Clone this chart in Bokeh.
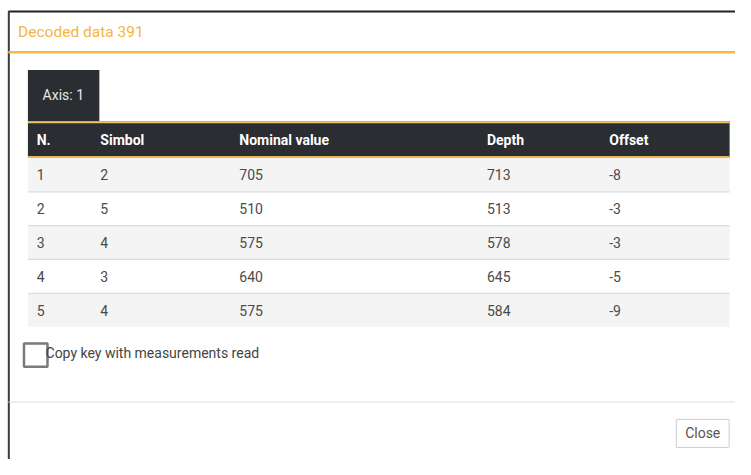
from bokeh.plotting import figure
from bokeh.models import Range1d
from bokeh.embed import file_html
from bokeh.resources import INLINE
from bokeh.core.properties import value

# ---- data ----
title_text = "Decoded data 391"
tab_label = "Axis: 1"
columns = ["N.", "Simbol", "Nominal value", "Depth", "Offset"]
row_n = [1, 2, 3, 4, 5]
simbol = [2, 5, 4, 3, 4]
nominal_value = [705, 510, 575, 640, 575]
depth = [713, 513, 578, 645, 584]
offset = [-8, -3, -3, -5, -9]
checkbox_label = "Copy key with measurements read"
button_label = "Close"

# ---- layout (reference-screen pixel coordinates) ----
FONT = value("Roboto")
ORANGE = "#f8b843"
DARK = "#2a2d31"
col_x = [37, 102, 244, 497, 622]
row_h = 35
row_top0 = 163

p = figure(width=735, height=459, output_backend="svg", toolbar_location=None,
           x_range=Range1d(0, 751), y_range=Range1d(475, 0),
           x_axis_type=None, y_axis_type=None, min_border=0)
p.outline_line_color = None
p.background_fill_color = "white"
p.border_fill_color = "white"

# dialog frame
p.segment(x0=[8], y0=[11.5], x1=[751], y1=[11.5], line_color="#222222", line_width=2)
p.segment(x0=[8.5], y0=[11], x1=[8.5], y1=[475], line_color="#3a3a3a", line_width=2)

# title
p.text(x=[18], y=[33], text=[title_text], text_font=FONT, text_font_size="15.5px",
       text_color="#f5b53f", text_baseline="middle", text_align="left")
p.segment(x0=[8], y0=[53.5], x1=[751], y1=[53.5], line_color=ORANGE, line_width=2.5)

# tab
p.quad(left=[28], right=[101], top=[72], bottom=[125], fill_color=DARK, line_color=None)
p.text(x=[43], y=[98], text=[tab_label], text_font=FONT, text_font_size="14px",
       text_color="#e8e8e8", text_baseline="middle", text_align="left")

# header
p.quad(left=[28], right=[745], top=[125], bottom=[162.5], fill_color=DARK, line_color=None)
p.segment(x0=[28], y0=[126], x1=[745], y1=[126], line_color="#f3c469", line_width=2)
p.segment(x0=[28], y0=[162], x1=[745], y1=[162], line_color="#e9b659", line_width=2)
p.text(x=col_x, y=[144] * len(columns), text=columns, text_font=FONT,
       text_font_size="14px", text_font_style="bold", text_color="white",
       text_baseline="middle", text_align="left")

# rows
nrows = len(row_n)
tops = [row_top0 + i * row_h for i in range(nrows)]
bottoms = [t + row_h for t in tops]
fills = ["#f4f4f4" if i % 2 == 0 else "#ffffff" for i in range(nrows)]
p.quad(left=[28] * nrows, right=[745] * nrows, top=tops, bottom=bottoms,
       fill_color=fills, line_color=None)
p.segment(x0=[28] * (nrows - 1), y0=bottoms[:-1], x1=[745] * (nrows - 1), y1=bottoms[:-1],
          line_color="#dcdcdc", line_width=1.2)

cells_x, cells_y, cells_t = [], [], []
for i in range(nrows):
    vals = [row_n[i], simbol[i], nominal_value[i], depth[i], offset[i]]
    yc = tops[i] + row_h / 2
    for cx, v in zip(col_x, vals):
        cells_x.append(cx)
        cells_y.append(yc)
        cells_t.append(str(v))
p.text(x=cells_x, y=cells_y, text=cells_t, text_font=FONT, text_font_size="14px",
       text_color="#4a4a4a", text_baseline="middle", text_align="left")

# checkbox
p.quad(left=[24], right=[48], top=[355], bottom=[379], fill_color="white",
       line_color="#7a7a7a", line_width=2.5)
p.text(x=[46], y=[364.5], text=[checkbox_label], text_font=FONT, text_font_size="14px",
       text_color="#444444", text_baseline="middle", text_align="left")

# footer separator
p.segment(x0=[8], y0=[415.5], x1=[751], y1=[415.5], line_color="#dedede", line_width=1.2)

# close button
p.quad(left=[690.5], right=[744.5], top=[433.5], bottom=[462.5], fill_color="white",
       line_color="#cfcfcf", line_width=1)
p.text(x=[717.5], y=[448], text=[button_label], text_font=FONT, text_font_size="14px",
       text_color="#555555", text_baseline="middle", text_align="center")

open("out.html", "w").write(file_html(p, INLINE))
